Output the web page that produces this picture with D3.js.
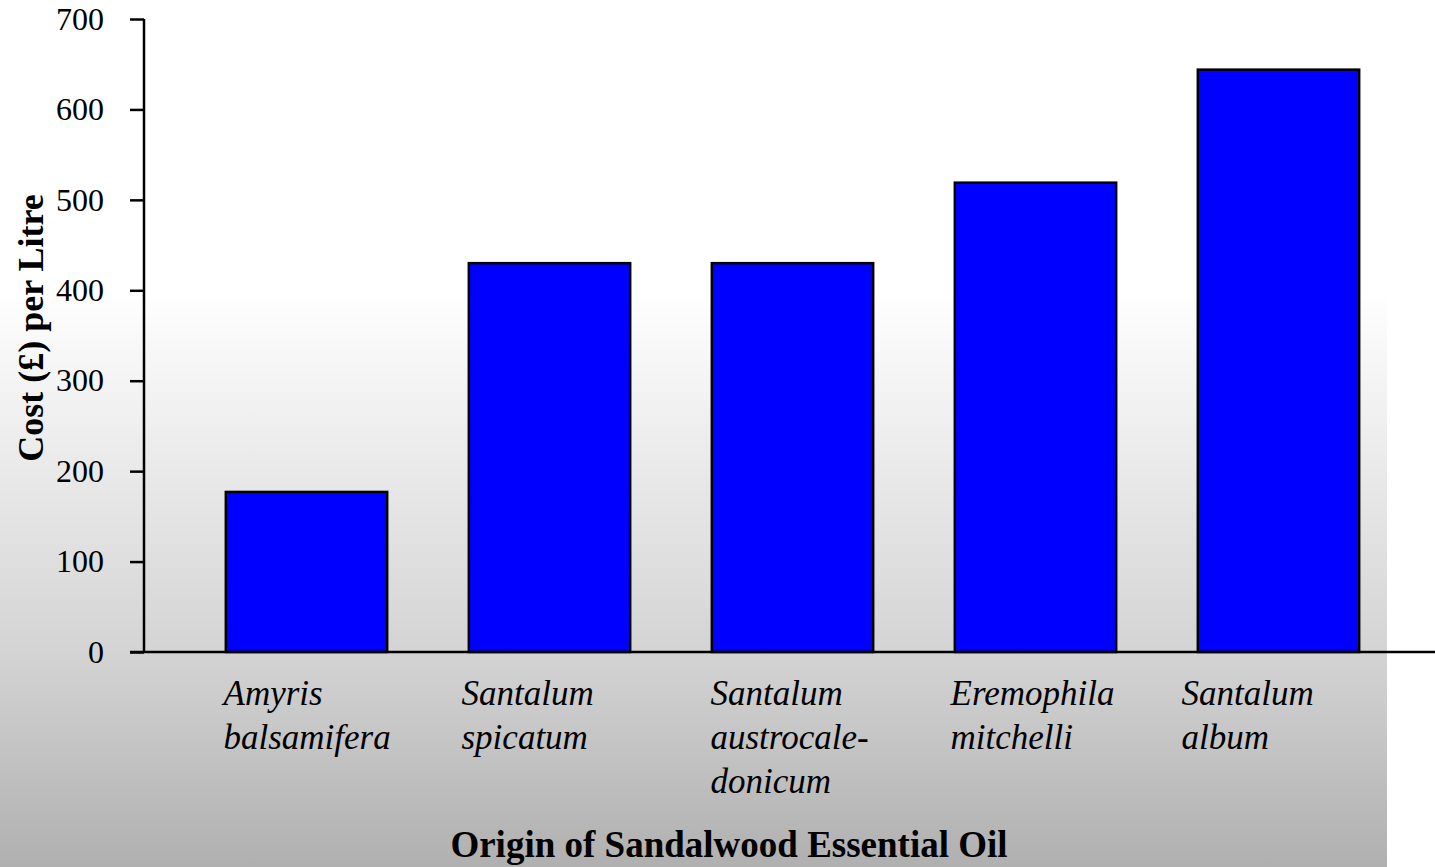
<!DOCTYPE html>
<html>
<head>
<meta charset="utf-8">
<script src="https://cdn.jsdelivr.net/npm/d3@7"></script>
<style>
  body { margin: 0; background: #fff; }
  svg { display: block; }
  text { font-family: "Liberation Serif", "Times New Roman", serif; fill: #000; }
</style>
</head>
<body>
<div id="chart"></div>
<script>
  // species, split over lines the way the labels wrap
  var species = ['Amyris balsamifera', 'Santalum spicatum', 'Santalum austrocaledonicum',
                 'Eremophila mitchelli', 'Santalum album'];
  var labelLines = [
    ['Amyris', 'balsamifera'],
    ['Santalum', 'spicatum'],
    ['Santalum', 'austrocale-', 'donicum'],
    ['Eremophila', 'mitchelli'],
    ['Santalum', 'album']
  ];
  // cost in pounds per litre
  var cost = [177, 430, 430, 519, 644];
  var yTicks = [0, 100, 200, 300, 400, 500, 600, 700];

  var width = 1435, height = 867;
  var svg = d3.select('#chart').append('svg')
    .attr('width', width)
    .attr('height', height);

  // grey fade behind the lower part of the chart
  var grad = svg.append('defs').append('linearGradient')
    .attr('id', 'bg')
    .attr('x1', 0).attr('y1', 0).attr('x2', 0).attr('y2', 1);
  grad.append('stop').attr('offset', '0%').attr('stop-color', '#fefefe');
  grad.append('stop').attr('offset', '62%').attr('stop-color', '#d4d4d4');
  grad.append('stop').attr('offset', '100%').attr('stop-color', '#b0b0b0');

  svg.append('rect')
    .attr('x', 0).attr('y', 297)
    .attr('width', 1387).attr('height', height - 297)
    .attr('fill', 'url(#bg)');

  var y = d3.scaleLinear().domain([0, 700]).range([652, 19]);
  var x = d3.scaleBand().domain(species).range([185, 1400]).paddingInner(0.336).paddingOuter(0.168);

  // bars
  svg.selectAll('rect.bar')
    .data(cost)
    .enter()
    .append('rect')
    .attr('class', 'bar')
    .attr('x', function(d, i) { return x(species[i]); })
    .attr('y', function(d) { return y(d); })
    .attr('width', x.bandwidth())
    .attr('height', function(d) { return y(0) - y(d); })
    .attr('fill', '#0000ff')
    .attr('stroke', '#000')
    .attr('stroke-width', 2.5);

  // y axis
  var yAxis = d3.axisLeft(y)
    .tickValues(yTicks)
    .tickSize(14)
    .tickPadding(26)
    .tickFormat(d3.format('d'));

  var gy = svg.append('g')
    .attr('transform', 'translate(144,0)')
    .call(yAxis);
  gy.select('.domain').attr('stroke', '#000').attr('stroke-width', 2.5)
    .attr('d', 'M0,' + y(700) + 'V' + y(0));
  gy.selectAll('.tick line').attr('stroke', '#000').attr('stroke-width', 2.5);
  gy.selectAll('.tick text')
    .style('font-family', '"Liberation Serif", "Times New Roman", serif')
    .style('font-size', '32px')
    .attr('fill', '#000');

  // x axis baseline runs out to the right edge
  svg.append('line')
    .attr('x1', 130).attr('x2', width)
    .attr('y1', y(0)).attr('y2', y(0))
    .attr('stroke', '#000')
    .attr('stroke-width', 2.5);

  // category labels, left aligned in a block under each bar
  var labelShift = [-83, -88, -82, -85, -97];
  var labels = svg.selectAll('text.cat')
    .data(labelLines)
    .enter()
    .append('text')
    .attr('class', 'cat')
    .attr('font-style', 'italic')
    .attr('font-size', 35)
    .attr('text-anchor', 'start');

  labels.each(function(lines, i) {
    var cx = x(species[i]) + x.bandwidth() / 2 + labelShift[i];
    d3.select(this).selectAll('tspan')
      .data(lines)
      .enter()
      .append('tspan')
      .attr('x', cx)
      .attr('y', function(d, j) { return 705 + j * 44; })
      .text(function(d) { return d; });
  });

  // axis titles
  svg.append('text')
    .attr('x', 729)
    .attr('y', 857)
    .attr('text-anchor', 'middle')
    .attr('font-weight', 'bold')
    .attr('font-size', 37)
    .text('Origin of Sandalwood Essential Oil');

  svg.append('text')
    .attr('transform', 'translate(43,328) rotate(-90)')
    .attr('text-anchor', 'middle')
    .attr('font-weight', 'bold')
    .attr('font-size', 36)
    .text('Cost (£) per Litre');
</script>
</body>
</html>
